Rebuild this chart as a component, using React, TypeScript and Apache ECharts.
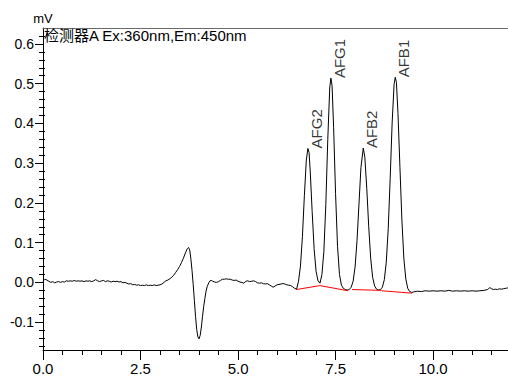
import React, { useEffect, useRef } from "react";
import * as echarts from "echarts";

// Chromatogram trace (time in min, signal in mV)
const times = [
  0.0, 0.05, 0.1, 0.15, 0.2, 0.25, 0.3, 0.35, 0.4, 0.45, 0.5, 0.55, 0.6, 0.65, 0.7, 0.75, 0.8, 0.85, 0.9, 0.95,
  1.0, 1.05, 1.1, 1.15, 1.2, 1.25, 1.3, 1.35, 1.4, 1.45, 1.5, 1.55, 1.6, 1.65, 1.7, 1.75, 1.8, 1.85, 1.9, 1.95,
  2.0, 2.05, 2.1, 2.15, 2.2, 2.25, 2.3, 2.35, 2.4, 2.45, 2.5, 2.55, 2.6, 2.65, 2.7, 2.75, 2.8, 2.85, 2.9, 2.95,
  3.0, 3.05, 3.1, 3.15, 3.2, 3.25, 3.3, 3.35, 3.4, 3.45, 3.5, 3.55, 3.6, 3.65, 3.7, 3.73, 3.76, 3.79, 3.82, 3.85,
  3.88, 3.91, 3.94, 3.97, 4.0, 4.03, 4.06, 4.09, 4.12, 4.15, 4.18, 4.21, 4.25, 4.28, 4.31, 4.35, 4.4, 4.45, 4.5, 4.55,
  4.6, 4.65, 4.7, 4.75, 4.8, 4.85, 4.9, 4.95, 5.0, 5.05, 5.1, 5.15, 5.2, 5.25, 5.3, 5.35, 5.4, 5.45, 5.5, 5.55,
  5.6, 5.65, 5.7, 5.75, 5.8, 5.85, 5.9, 5.95, 6.0, 6.05, 6.1, 6.15, 6.2, 6.25, 6.3, 6.35, 6.4, 6.45, 6.5, 6.55,
  6.6, 6.65, 6.7, 6.75, 6.79, 6.82, 6.85, 6.9, 6.95, 7.0, 7.05, 7.1, 7.15, 7.2, 7.25, 7.3, 7.35, 7.38, 7.41, 7.45,
  7.5, 7.55, 7.6, 7.65, 7.7, 7.75, 7.8, 7.85, 7.9, 7.95, 8.0, 8.05, 8.1, 8.15, 8.21, 8.25, 8.3, 8.35, 8.4, 8.45,
  8.5, 8.55, 8.6, 8.65, 8.7, 8.75, 8.8, 8.85, 8.9, 8.95, 9.0, 9.03, 9.06, 9.1, 9.15, 9.2, 9.25, 9.3, 9.35, 9.4,
  9.45, 9.5, 9.6, 9.7, 9.8, 9.9, 10.0, 10.1, 10.2, 10.3, 10.4, 10.5, 10.6, 10.7, 10.8, 10.9, 11.0, 11.1, 11.2, 11.3,
  11.4, 11.45, 11.5, 11.55, 11.6, 11.65, 11.7, 11.75, 11.8, 11.85, 11.9, 12.0,
];
const signal = [
  0.003, 0.008, 0.006, 0.003, 0.0, 0.002, -0.001, 0.001, 0.002, 0.0, 0.002, 0.001, 0.004, 0.003, 0.004, 0.003, 0.005, 0.003, 0.004, 0.003,
  0.004, 0.002, 0.004, 0.003, 0.004, 0.002, 0.004, 0.007, 0.004, 0.002, 0.004, 0.005, 0.002, 0.004, 0.003, 0.001, 0.003, 0.002, 0.003, 0.001,
  0.002, -0.001, 0.0, -0.002, -0.004, -0.003, -0.006, -0.005, -0.007, -0.006, -0.008, -0.007, -0.008, -0.006, -0.008, -0.007, -0.008, -0.006, -0.008, -0.007,
  -0.006, -0.004, 0.0, 0.004, 0.006, 0.009, 0.013, 0.018, 0.025, 0.032, 0.04, 0.05, 0.061, 0.074, 0.085, 0.088, 0.082, 0.06, 0.03, -0.005,
  -0.045, -0.085, -0.118, -0.137, -0.142, -0.133, -0.112, -0.085, -0.06, -0.04, -0.022, -0.01, -0.001, 0.004, 0.005, 0.003, 0.001, 0.0, 0.002, 0.005,
  0.008, 0.008, 0.009, 0.008, 0.008, 0.006, 0.005, 0.006, 0.003, 0.001, 0.0, -0.002, 0.003, 0.004, 0.002, 0.003, 0.004, 0.002, -0.001, -0.002,
  -0.001, -0.003, -0.004, -0.003, -0.006, -0.009, -0.012, -0.009, -0.006, -0.005, -0.004, -0.003, -0.004, -0.006, -0.007, -0.008, -0.011, -0.015, -0.017, 0.003,
  0.041, 0.115, 0.218, 0.308, 0.337, 0.327, 0.28, 0.178, 0.085, 0.028, 0.004, -0.002, 0.02, 0.078, 0.196, 0.359, 0.489, 0.514, 0.495, 0.389,
  0.223, 0.091, 0.02, -0.007, -0.015, -0.018, -0.019, -0.018, -0.012, 0.003, 0.039, 0.105, 0.197, 0.289, 0.338, 0.315, 0.236, 0.14, 0.061, 0.013,
  -0.009, -0.017, -0.019, -0.018, -0.012, 0.007, 0.051, 0.136, 0.262, 0.401, 0.498, 0.516, 0.503, 0.425, 0.289, 0.157, 0.061, 0.009, -0.015, -0.023,
  -0.025, -0.024, -0.022, -0.023, -0.021, -0.022, -0.021, -0.022, -0.021, -0.022, -0.02, -0.022, -0.021, -0.022, -0.021, -0.022, -0.021, -0.022, -0.021, -0.02,
  -0.018, -0.013, -0.016, -0.018, -0.017, -0.018, -0.016, -0.017, -0.016, -0.015, -0.014, -0.014,
];

// Peak annotations
const peakNames = ["AFG2", "AFG1", "AFB2", "AFB1"];
const peakTimes = [6.79, 7.38, 8.21, 9.03];
const peakHeights = [0.337, 0.514, 0.338, 0.516];

// Integration baselines (red)
const baseline1 = [[6.49, -0.018], [7.1, -0.008], [7.82, -0.021]];
const baseline2 = [[7.92, -0.018], [8.68, -0.02]];
const baseline3 = [[8.68, -0.021], [9.46, -0.027]];

// Axis ticks
const xMajorTicks = [0, 2.5, 5, 7.5, 10];
const xMinorTicks = [0.5, 1, 1.5, 2, 3, 3.5, 4, 4.5, 5.5, 6, 6.5, 7, 8, 8.5, 9, 9.5, 10.5, 11, 11.5];
const yMajorTicks = [-0.1, 0, 0.1, 0.2, 0.3, 0.4, 0.5, 0.6];
const yMinorTicks = [
  -0.16, -0.14, -0.12, -0.08, -0.06, -0.04, -0.02, 0.02, 0.04, 0.06, 0.08, 0.12, 0.14, 0.16, 0.18,
  0.22, 0.24, 0.26, 0.28, 0.32, 0.34, 0.36, 0.38, 0.42, 0.44, 0.46, 0.48, 0.52, 0.54, 0.56, 0.58, 0.62,
];

const FONT = 'Arial, "Liberation Sans", "Noto Sans CJK SC", sans-serif';
const X_MIN = 0;
const X_MAX = 11.92;
const Y_MIN = -0.17;
const Y_MAX = 0.64;

export default function App() {
  const ref = useRef<HTMLDivElement>(null);

  useEffect(() => {
    if (!ref.current) return;
    const chart = echarts.init(ref.current, null, { renderer: "svg" });
    const black = "#000";
    const trace = times.map((t, i) => [t, signal[i]]);
    const peaks = peakNames.map((n, i) => ({ name: n, value: [peakTimes[i], peakHeights[i]] }));

    const baseSeries = (data: number[][]) => ({
      type: "line",
      data,
      xAxisIndex: 0,
      yAxisIndex: 0,
      symbol: "none",
      lineStyle: { color: "#ff0000", width: 1 },
      silent: true,
      z: 3,
    });

    chart.setOption({
      animation: false,
      textStyle: { fontFamily: FONT },
      title: {
        text: "检测器A Ex:360nm,Em:450nm",
        left: 44,
        top: 28,
        padding: 0,
        textStyle: { fontFamily: FONT, fontSize: 15, fontWeight: "normal", color: black },
      },
      grid: { left: 43, right: 0, top: 28, bottom: 27, containLabel: false },
      xAxis: [
        {
          type: "value",
          min: X_MIN,
          max: X_MAX,
          position: "bottom",
          axisLine: { onZero: false, lineStyle: { color: black, width: 1 } },
          axisTick: { customValues: xMajorTicks, length: 10, lineStyle: { color: black } },
          axisLabel: {
            customValues: xMajorTicks,
            formatter: (v: number) => v.toFixed(1),
            fontSize: 15,
            color: black,
            margin: 11,
            fontFamily: FONT,
          },
          splitLine: { show: false },
        },
        {
          type: "value",
          min: X_MIN,
          max: X_MAX,
          position: "bottom",
          axisLine: { show: false, onZero: false },
          axisTick: { customValues: xMinorTicks, length: 5, lineStyle: { color: black } },
          axisLabel: { show: false },
          splitLine: { show: false },
        },
        {
          type: "value",
          min: X_MIN,
          max: X_MAX,
          position: "top",
          axisLine: { onZero: false, lineStyle: { color: "#6a6a6a", width: 1 } },
          axisTick: { show: false },
          axisLabel: { show: false },
          splitLine: { show: false },
        },
      ],
      yAxis: [
        {
          type: "value",
          min: Y_MIN,
          max: Y_MAX,
          position: "left",
          name: "mV",
          nameLocation: "end",
          nameGap: 3,
          nameTextStyle: { fontSize: 13, color: black, fontFamily: FONT },
          axisLine: { onZero: false, lineStyle: { color: black, width: 1 } },
          axisTick: { customValues: yMajorTicks, length: 8, lineStyle: { color: black } },
          axisLabel: {
            customValues: yMajorTicks,
            formatter: (v: number) => v.toFixed(1),
            fontSize: 14,
            color: black,
            margin: 9,
            fontFamily: FONT,
          },
          splitLine: { show: false },
        },
        {
          type: "value",
          min: Y_MIN,
          max: Y_MAX,
          position: "left",
          axisLine: { show: false, onZero: false },
          axisTick: { customValues: yMinorTicks, length: 4, lineStyle: { color: black } },
          axisLabel: { show: false },
          splitLine: { show: false },
        },
        {
          type: "value",
          min: Y_MIN,
          max: Y_MAX,
          position: "left",
          axisLine: { show: false, onZero: false },
          axisTick: { customValues: yMinorTicks, inside: true, length: 2, lineStyle: { color: black } },
          axisLabel: { show: false },
          splitLine: { show: false },
        },
      ],
      series: [
        {
          type: "line",
          data: trace,
          xAxisIndex: 0,
          yAxisIndex: 0,
          symbol: "none",
          lineStyle: { color: black, width: 1 },
          silent: true,
          z: 2,
        },
        baseSeries(baseline1),
        baseSeries(baseline2),
        baseSeries(baseline3),
        {
          type: "scatter",
          data: peaks,
          xAxisIndex: 0,
          yAxisIndex: 0,
          symbolSize: 1,
          itemStyle: { color: "rgba(0,0,0,0)" },
          silent: true,
          label: {
            show: true,
            formatter: "{b}",
            position: "right",
            distance: 8,
            rotate: 90,
            fontSize: 15,
            color: black,
            fontFamily: FONT,
          },
          z: 4,
        },
      ],
    });

    return () => chart.dispose();
  }, []);

  return (
    <div
      ref={ref}
      style={{ position: "fixed", left: 0, top: 0, width: 508, height: 377, background: "#fff" }}
    />
  );
}
